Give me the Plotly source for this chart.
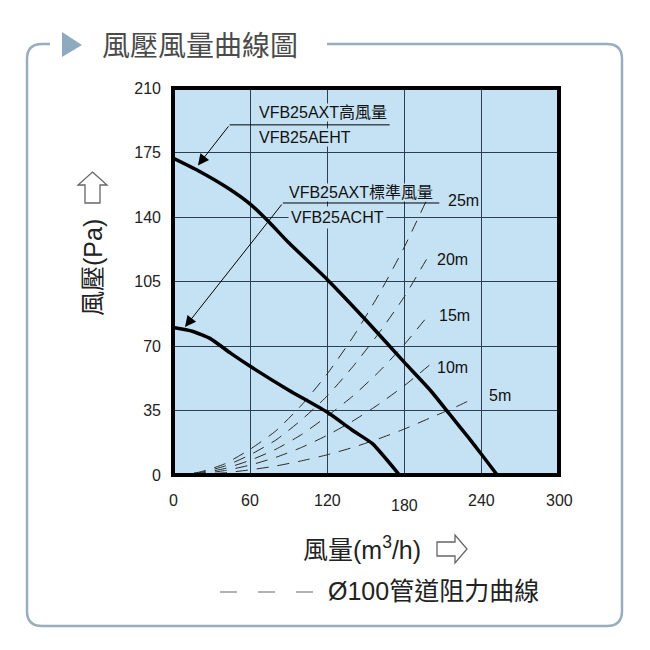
import plotly.graph_objects as go

# ---------------- data ----------------
high_x = [0, 20, 42, 60, 75, 90, 120, 150, 180, 200, 215, 230, 240, 252]
high_y = [172, 165, 156, 147, 137, 126, 106, 84, 61, 46, 33, 20, 11, 0]

std_x = [0, 15, 29, 45, 60, 90, 120, 140, 155, 176]
std_y = [80, 78, 74, 66, 59, 46, 34, 24, 17, 0]

duct_labels = ["25m", "20m", "15m", "10m", "5m"]
duct_x = [
    [0, 20, 40, 60, 80, 100, 120, 140, 160, 180, 197],
    [0, 20, 40, 60, 80, 100, 120, 140, 160, 180, 197],
    [0, 20, 40, 60, 80, 100, 120, 140, 160, 180, 200],
    [0, 20, 40, 60, 80, 100, 120, 140, 160, 180, 200],
    [0, 20, 40, 60, 80, 100, 120, 140, 160, 180, 200, 220, 232],
]
duct_y = [
    [0, 1.5, 6, 14, 24, 38, 55, 75, 98, 124, 149],
    [0, 1.2, 4.8, 11, 19, 30, 43, 59, 77, 97, 117],
    [0, 0.9, 3.5, 8, 14, 22, 32, 43, 56, 71, 88],
    [0, 0.6, 2.4, 5.4, 9.6, 15, 21.6, 29.4, 38.4, 48.6, 60],
    [0, 0.3, 1.2, 2.8, 4.9, 7.7, 11, 15, 19.7, 25, 31, 37, 41],
]
duct_label_pos = [(226, 149), (217, 116.7), (219, 86.8), (217, 58.6), (254, 43.4)]

x_tick_vals = [0, 60, 120, 180, 240, 300]
x_tick_text = ["0", "60", "120", "180", "240", "300"]
y_tick_vals = [0, 35, 70, 105, 140, 175, 210]
y_tick_text = ["0", "35", "70", "105", "140", "175", "210"]

title_text = "風壓風量曲線圖"
y_title = "風壓(Pa)"
x_title = "風量(m<sup>3</sup>/h)"
legend_text = "Ø100管道阻力曲線"
high_name = ["VFB25AXT高風量", "VFB25AEHT"]
std_name = ["VFB25AXT標準風量", "VFB25ACHT"]

# ---------------- figure ----------------
L, R, T, B = 173, 559, 88, 475
W, H = R - L, B - T


def px(x):
    return (x - L) / W


def py(y):
    return (B - y) / H


def path(points, close=False):
    s = ""
    for i, p in enumerate(points):
        s += ("M" if i == 0 else " L") + f"{px(p[0]):.5f},{py(p[1]):.5f}"
    if close:
        s += " Z"
    return s


FONT = "Liberation Sans, Arial, Noto Sans CJK TC, sans-serif"
CJK = "Noto Sans CJK TC, Liberation Sans, sans-serif"
BG = "#c5e2f4"

fig = go.Figure()

for xs, ys in zip(duct_x, duct_y):
    fig.add_trace(go.Scatter(x=xs, y=ys, mode="lines",
                             line=dict(color="#2a2a2a", width=1, dash="12px,9px",
                                       shape="spline", smoothing=0.6),
                             hoverinfo="skip", showlegend=False))

for xs, ys in [(high_x, high_y), (std_x, std_y)]:
    fig.add_trace(go.Scatter(x=xs, y=ys, mode="lines",
                             line=dict(color="#000000", width=3.5,
                                       shape="spline", smoothing=0.5),
                             hoverinfo="skip", showlegend=False))

annotations = []
for lab, (lx, ly) in zip(duct_labels, duct_label_pos):
    annotations.append(dict(x=lx, y=ly, xref="x", yref="y", text=lab,
                            showarrow=False, font=dict(family=FONT, size=16, color="#111"),
                            xanchor="center", yanchor="middle"))

annotations += [
    dict(x=66, y=196.6, xref="x", yref="y", text=high_name[0], showarrow=False,
         xanchor="left", yanchor="middle", font=dict(family=FONT, size=16, color="#111"),
         bgcolor=BG, borderpad=0),
    dict(x=66, y=183, xref="x", yref="y", text=high_name[1], showarrow=False,
         xanchor="left", yanchor="middle", font=dict(family=FONT, size=16, color="#111"),
         bgcolor=BG, borderpad=0),
    dict(x=89.3, y=153.4, xref="x", yref="y", text=std_name[0], showarrow=False,
         xanchor="left", yanchor="middle", font=dict(family=FONT, size=16, color="#111"),
         bgcolor=BG, borderpad=0),
    dict(x=89.3, y=140, xref="x", yref="y", text=std_name[1], showarrow=False,
         xanchor="left", yanchor="middle", font=dict(family=FONT, size=16, color="#111"),
         bgcolor=BG, borderpad=2),
    dict(x=19.4, y=168, ax=44, ay=190, xref="x", yref="y", axref="x", ayref="y",
         text="", showarrow=True, arrowhead=2, arrowsize=2.2, arrowwidth=1,
         arrowcolor="#000", standoff=0),
    dict(x=9.3, y=80.3, ax=85.4, ay=147.6, xref="x", yref="y", axref="x", ayref="y",
         text="", showarrow=True, arrowhead=2, arrowsize=2.2, arrowwidth=1,
         arrowcolor="#000", standoff=0),
]

for v, t in zip(x_tick_vals, x_tick_text):
    annotations.append(dict(x=v, y=0, xref="x", yref="y", text=t, showarrow=False,
                            yshift=-30 if t == "180" else -25,
                            font=dict(family=FONT, size=16, color="#222"),
                            xanchor="center", yanchor="middle"))

annotations += [
    dict(x=px(100), y=py(44), xref="paper", yref="paper", text=title_text, showarrow=False,
         xanchor="left", yanchor="middle", font=dict(family=CJK, size=28, color="#4a4a4a")),
    dict(x=px(93), y=py(268), xref="paper", yref="paper", text=y_title, showarrow=False,
         textangle=-90, xanchor="center", yanchor="middle",
         font=dict(family=FONT, size=25, color="#222")),
    dict(x=px(362), y=py(548), xref="paper", yref="paper", text=x_title, showarrow=False,
         xanchor="center", yanchor="middle", font=dict(family=FONT, size=25, color="#222")),
    dict(x=px(326), y=py(591), xref="paper", yref="paper", text=legend_text, showarrow=False,
         xanchor="left", yanchor="middle", font=dict(family=FONT, size=25, color="#222")),
]

frame = (path([(50, 44), (42, 44)])
         + f" Q{px(27):.5f},{py(44):.5f} {px(27):.5f},{py(59):.5f}"
         + f" L{px(27):.5f},{py(611):.5f} Q{px(27):.5f},{py(626):.5f} {px(42):.5f},{py(626):.5f}"
         + f" L{px(607):.5f},{py(626):.5f} Q{px(622):.5f},{py(626):.5f} {px(622):.5f},{py(611):.5f}"
         + f" L{px(622):.5f},{py(59):.5f} Q{px(622):.5f},{py(44):.5f} {px(607):.5f},{py(44):.5f}"
         + f" L{px(327):.5f},{py(44):.5f}")

shapes = [
    dict(type="line", xref="x", yref="y", x0=44, y0=190, x1=168.4, y1=190,
         line=dict(color="#000", width=1)),
    dict(type="line", xref="x", yref="y", x0=85.4, y0=147.6, x1=207, y1=147.6,
         line=dict(color="#000", width=1)),
    dict(type="path", xref="paper", yref="paper", layer="below", path=frame,
         line=dict(color="#98adbe", width=2.5)),
    dict(type="path", xref="paper", yref="paper",
         path=path([(62, 32), (82, 45), (62, 57)], close=True),
         fillcolor="#8eaabf", line=dict(width=0)),
    dict(type="path", xref="paper", yref="paper",
         path=path([(92.5, 172), (107, 185), (100, 185), (100, 203), (85, 203), (85, 185), (78, 185)], close=True),
         line=dict(color="#666", width=1.3)),
    dict(type="path", xref="paper", yref="paper",
         path=path([(437, 542), (455, 542), (455, 535), (467, 549), (455, 563), (455, 556), (437, 556)], close=True),
         line=dict(color="#666", width=1.3)),
]
for x0, x1 in [(220, 237), (258, 275), (296, 313)]:
    shapes.append(dict(type="line", xref="paper", yref="paper",
                       x0=px(x0), y0=py(592), x1=px(x1), y1=py(592),
                       line=dict(color="#888", width=1.3)))
shapes.append(dict(type="rect", xref="paper", yref="paper", x0=0, y0=0, x1=1, y1=1,
                   line=dict(color="#000", width=4), layer="above"))

fig.update_layout(
    width=650, height=650,
    margin=dict(l=L, r=650 - R, t=T, b=650 - B),
    paper_bgcolor="white", plot_bgcolor=BG,
    xaxis=dict(range=[0, 300], tickvals=x_tick_vals, showticklabels=False,
               showgrid=True, gridcolor="#2b3f50", gridwidth=1, zeroline=False,
               showline=False, fixedrange=True),
    yaxis=dict(range=[0, 210], tickvals=y_tick_vals, ticktext=y_tick_text,
               showgrid=True, gridcolor="#2b3f50", gridwidth=1, zeroline=False,
               showline=False, ticks="", ticklabelstandoff=11,
               tickfont=dict(family=FONT, size=16, color="#222"), fixedrange=True),
    annotations=annotations, shapes=shapes, showlegend=False,
)

fig.write_html("out.html")
